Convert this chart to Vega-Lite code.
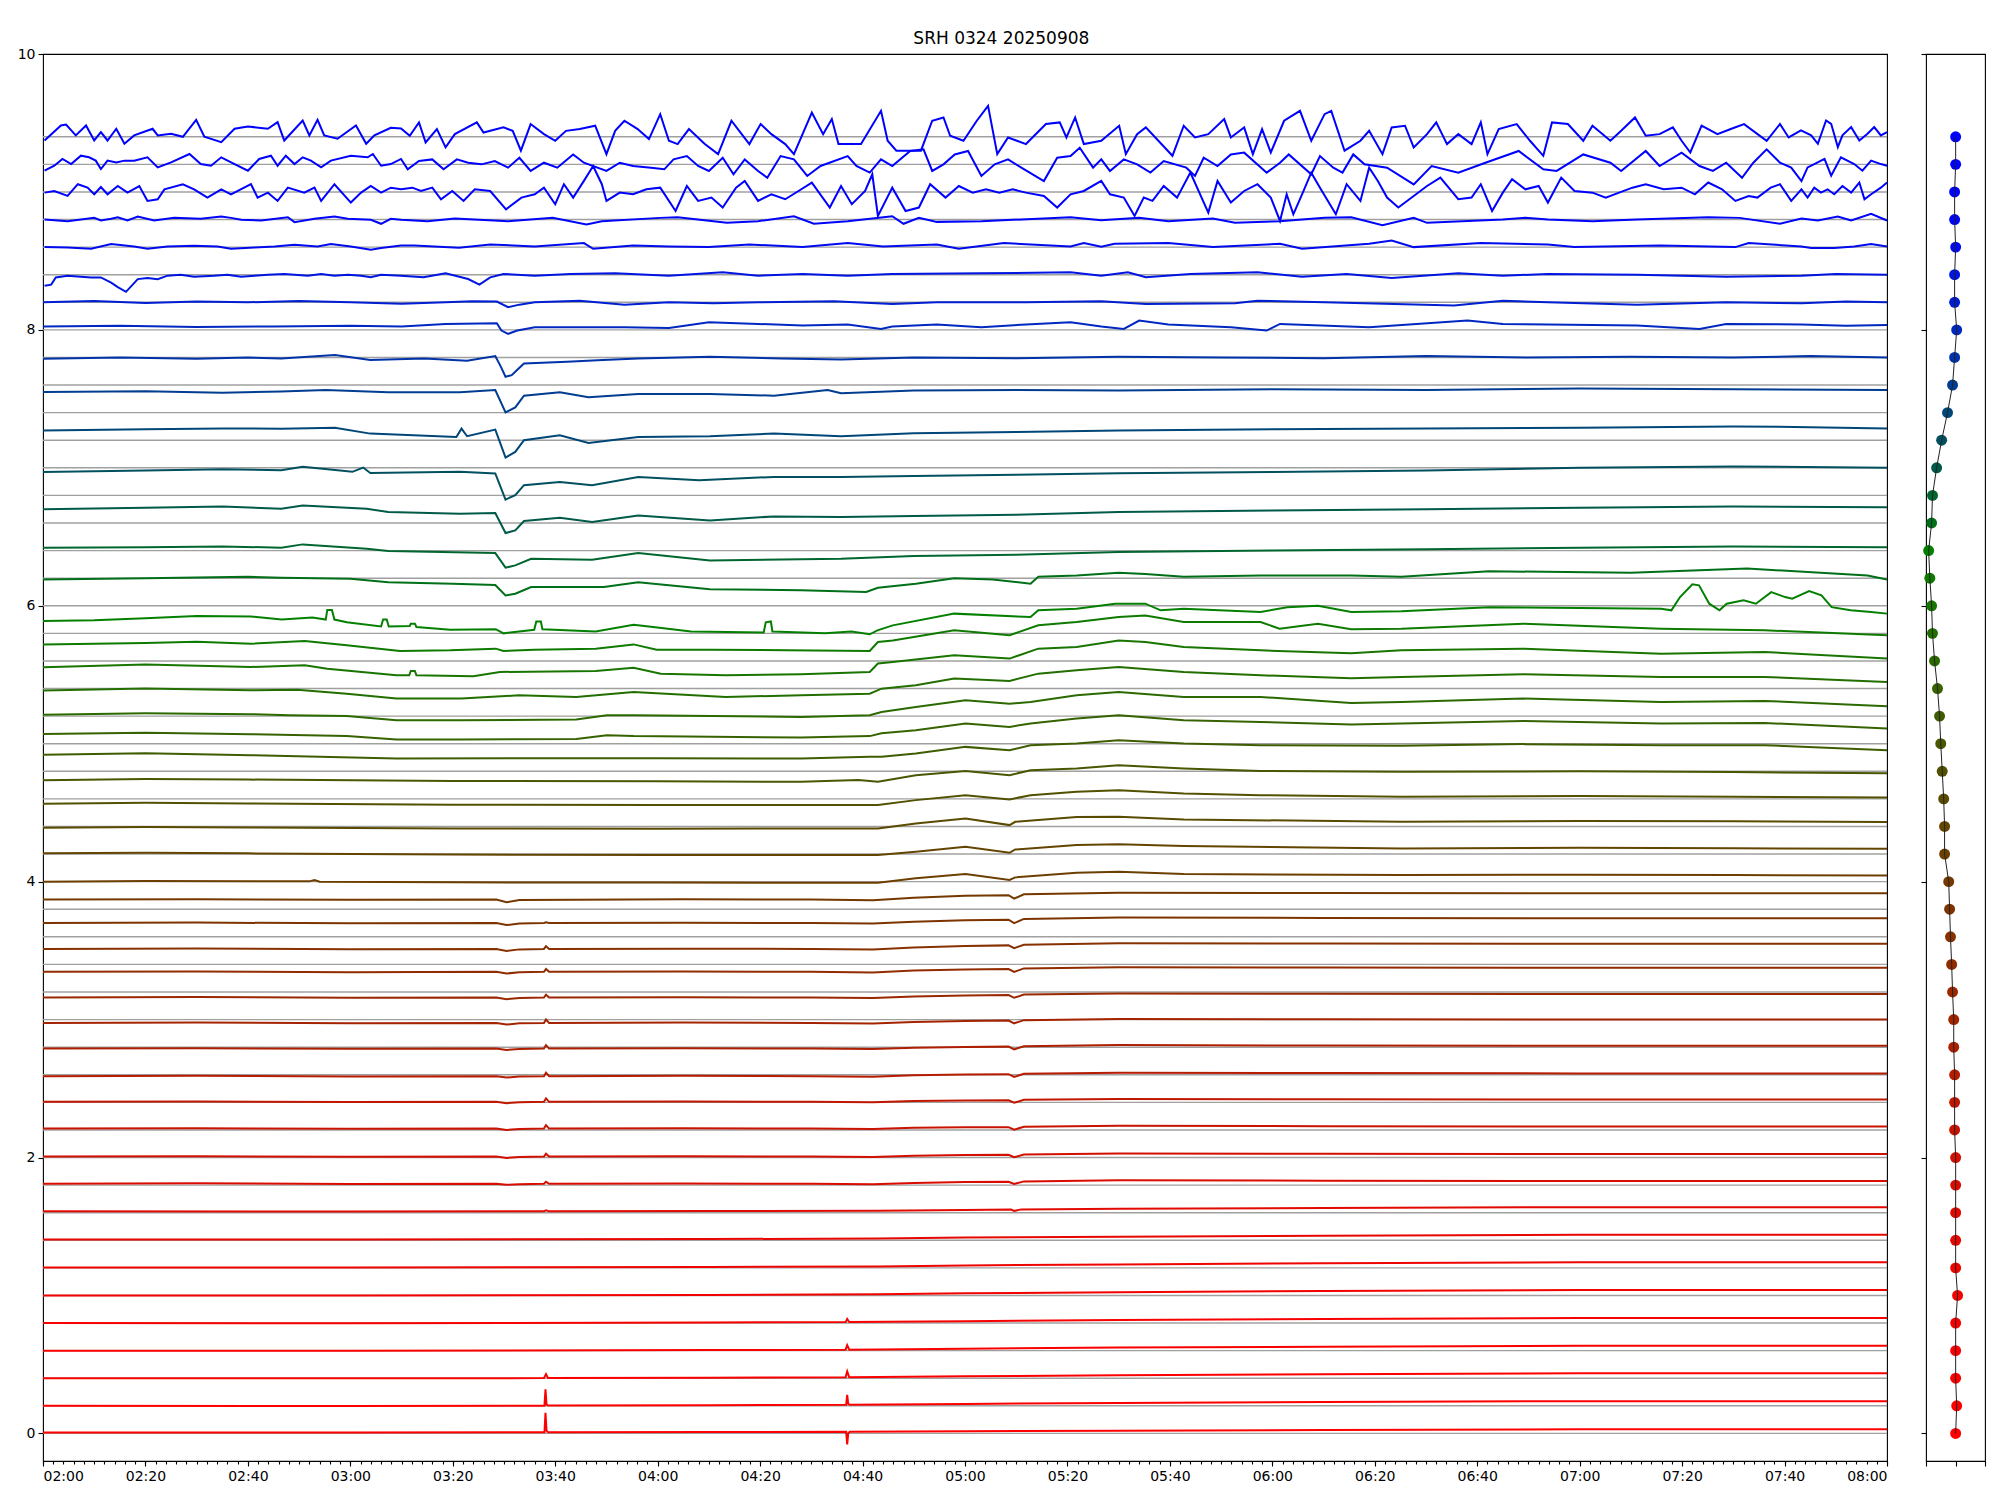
{
"$schema":"https://vega.github.io/schema/vega-lite/v6.json",
"padding":{"left":16,"top":30,"right":5,"bottom":5},
"title":{"text":"SRH 0324 20250908","fontSize":17,"fontWeight":"normal","font":"DejaVu Sans","color":"black","anchor":"middle","offset":-2},
"config":{"font":"DejaVu Sans","view":{"stroke":"black","strokeWidth":1.1},"axis":{"labelFont":"DejaVu Sans","labelFontSize":14,"labelColor":"black","tickColor":"black","tickWidth":1.1,"domain":false,"grid":false}},
"spacing":27,
"datasets":{
"dt":[{"s":9.4,"x":0.005},{"s":9.2,"x":0.005},{"s":9.0,"x":-0.03},{"s":8.8,"x":-0.03},{"s":8.6,"x":0.005},{"s":8.4,"x":-0.03},{"s":8.2,"x":-0.03},{"s":8.0,"x":0.04},{"s":7.8,"x":-0.03},{"s":7.6,"x":-0.1},{"s":7.4,"x":-0.27},{"s":7.2,"x":-0.47},{"s":7.0,"x":-0.64},{"s":6.8,"x":-0.78},{"s":6.6,"x":-0.81},{"s":6.4,"x":-0.91},{"s":6.2,"x":-0.87},{"s":6.0,"x":-0.81},{"s":5.8,"x":-0.78},{"s":5.6,"x":-0.71},{"s":5.4,"x":-0.61},{"s":5.2,"x":-0.54},{"s":5.0,"x":-0.5},{"s":4.8,"x":-0.45},{"s":4.6,"x":-0.4},{"s":4.4,"x":-0.37},{"s":4.2,"x":-0.37},{"s":4.0,"x":-0.23},{"s":3.8,"x":-0.2},{"s":3.6,"x":-0.17},{"s":3.4,"x":-0.13},{"s":3.2,"x":-0.1},{"s":3.0,"x":-0.06},{"s":2.8,"x":-0.06},{"s":2.6,"x":-0.03},{"s":2.4,"x":-0.03},{"s":2.2,"x":-0.03},{"s":2.0,"x":0.005},{"s":1.8,"x":0.005},{"s":1.6,"x":0.005},{"s":1.4,"x":0.005},{"s":1.2,"x":0.005},{"s":1.0,"x":0.07},{"s":0.8,"x":0.005},{"s":0.6,"x":0.005},{"s":0.4,"x":0.005},{"s":0.2,"x":0.04},{"s":0.0,"x":0.005}],
"tr":[
{"s":9.4,"t":120.3,"v":9.373},{"s":9.4,"t":123.5,"v":9.482},{"s":9.4,"t":124.5,"v":9.489},{"s":9.4,"t":126.4,"v":9.41},{"s":9.4,"t":128.4,"v":9.482},{"s":9.4,"t":130,"v":9.373},{"s":9.4,"t":131.3,"v":9.434},{"s":9.4,"t":132.6,"v":9.373},{"s":9.4,"t":134.3,"v":9.458},{"s":9.4,"t":135.9,"v":9.349},{"s":9.4,"t":137.8,"v":9.41},{"s":9.4,"t":141.4,"v":9.458},{"s":9.4,"t":142.4,"v":9.41},{"s":9.4,"t":145,"v":9.422},{"s":9.4,"t":147.3,"v":9.4},{"s":9.4,"t":149.9,"v":9.523},{"s":9.4,"t":151.5,"v":9.4},{"s":9.4,"t":154.8,"v":9.361},{"s":9.4,"t":157.4,"v":9.458},{"s":9.4,"t":160,"v":9.475},{"s":9.4,"t":163.9,"v":9.458},{"s":9.4,"t":165.8,"v":9.506},{"s":9.4,"t":167.1,"v":9.373},{"s":9.4,"t":170.7,"v":9.518},{"s":9.4,"t":172,"v":9.41},{"s":9.4,"t":173.6,"v":9.523},{"s":9.4,"t":174.9,"v":9.41},{"s":9.4,"t":177.5,"v":9.386},{"s":9.4,"t":181.1,"v":9.482},{"s":9.4,"t":183.1,"v":9.349},{"s":9.4,"t":184.7,"v":9.41},{"s":9.4,"t":187.9,"v":9.465},{"s":9.4,"t":189.9,"v":9.46},{"s":9.4,"t":191.6,"v":9.407},{"s":9.4,"t":193.4,"v":9.504},{"s":9.4,"t":194.7,"v":9.359},{"s":9.4,"t":196.9,"v":9.456},{"s":9.4,"t":198.6,"v":9.323},{"s":9.4,"t":200.4,"v":9.419},{"s":9.4,"t":204.7,"v":9.504},{"s":9.4,"t":206,"v":9.431},{"s":9.4,"t":209.9,"v":9.468},{"s":9.4,"t":211.7,"v":9.443},{"s":9.4,"t":213.3,"v":9.299},{"s":9.4,"t":215.2,"v":9.492},{"s":9.4,"t":217.8,"v":9.419},{"s":9.4,"t":220,"v":9.371},{"s":9.4,"t":222.1,"v":9.443},{"s":9.4,"t":224.8,"v":9.456},{"s":9.4,"t":227.8,"v":9.48},{"s":9.4,"t":230,"v":9.274},{"s":9.4,"t":231.7,"v":9.443},{"s":9.4,"t":233.5,"v":9.516},{"s":9.4,"t":236.1,"v":9.456},{"s":9.4,"t":238.3,"v":9.383},{"s":9.4,"t":240.5,"v":9.564},{"s":9.4,"t":242.2,"v":9.371},{"s":9.4,"t":243.9,"v":9.347},{"s":9.4,"t":246.1,"v":9.456},{"s":9.4,"t":249.2,"v":9.347},{"s":9.4,"t":251.8,"v":9.274},{"s":9.4,"t":254.4,"v":9.516},{"s":9.4,"t":257.9,"v":9.347},{"s":9.4,"t":260.1,"v":9.492},{"s":9.4,"t":262.2,"v":9.419},{"s":9.4,"t":264.9,"v":9.347},{"s":9.4,"t":266.6,"v":9.274},{"s":9.4,"t":270.1,"v":9.576},{"s":9.4,"t":272.3,"v":9.419},{"s":9.4,"t":274,"v":9.528},{"s":9.4,"t":275.3,"v":9.347},{"s":9.4,"t":279.7,"v":9.347},{"s":9.4,"t":283.6,"v":9.588},{"s":9.4,"t":284.9,"v":9.371},{"s":9.4,"t":286.6,"v":9.299},{"s":9.4,"t":291.4,"v":9.299},{"s":9.4,"t":293.6,"v":9.516},{"s":9.4,"t":295.8,"v":9.54},{"s":9.4,"t":297.1,"v":9.407},{"s":9.4,"t":299.7,"v":9.371},{"s":9.4,"t":302.3,"v":9.516},{"s":9.4,"t":304.5,"v":9.624},{"s":9.4,"t":306.3,"v":9.274},{"s":9.4,"t":308.4,"v":9.395},{"s":9.4,"t":311.9,"v":9.347},{"s":9.4,"t":315.8,"v":9.492},{"s":9.4,"t":318.5,"v":9.504},{"s":9.4,"t":319.8,"v":9.395},{"s":9.4,"t":321.5,"v":9.54},{"s":9.4,"t":323.2,"v":9.347},{"s":9.4,"t":326.6,"v":9.371},{"s":9.4,"t":330.1,"v":9.48},{"s":9.4,"t":331.4,"v":9.274},{"s":9.4,"t":333.6,"v":9.419},{"s":9.4,"t":335.3,"v":9.468},{"s":9.4,"t":340.5,"v":9.262},{"s":9.4,"t":342.7,"v":9.48},{"s":9.4,"t":344.9,"v":9.395},{"s":9.4,"t":347.5,"v":9.419},{"s":9.4,"t":350.6,"v":9.528},{"s":9.4,"t":351.9,"v":9.395},{"s":9.4,"t":354.5,"v":9.468},{"s":9.4,"t":356.2,"v":9.274},{"s":9.4,"t":358,"v":9.456},{"s":9.4,"t":359.7,"v":9.286},{"s":9.4,"t":362.3,"v":9.516},{"s":9.4,"t":365.4,"v":9.588},{"s":9.4,"t":367.6,"v":9.371},{"s":9.4,"t":370.2,"v":9.564},{"s":9.4,"t":371.5,"v":9.588},{"s":9.4,"t":374.1,"v":9.299},{"s":9.4,"t":377.2,"v":9.371},{"s":9.4,"t":378.9,"v":9.443},{"s":9.4,"t":381.5,"v":9.274},{"s":9.4,"t":383.3,"v":9.468},{"s":9.4,"t":385.9,"v":9.48},{"s":9.4,"t":387.6,"v":9.323},{"s":9.4,"t":390.2,"v":9.419},{"s":9.4,"t":392,"v":9.504},{"s":9.4,"t":394.1,"v":9.347},{"s":9.4,"t":396.3,"v":9.419},{"s":9.4,"t":398.9,"v":9.347},{"s":9.4,"t":400.7,"v":9.504},{"s":9.4,"t":402,"v":9.274},{"s":9.4,"t":404.2,"v":9.456},{"s":9.4,"t":407.7,"v":9.492},{"s":9.4,"t":410.3,"v":9.371},{"s":9.4,"t":412.9,"v":9.262},{"s":9.4,"t":414.6,"v":9.504},{"s":9.4,"t":417.7,"v":9.492},{"s":9.4,"t":420.7,"v":9.371},{"s":9.4,"t":422.5,"v":9.48},{"s":9.4,"t":426,"v":9.371},{"s":9.4,"t":428.1,"v":9.443},{"s":9.4,"t":430.8,"v":9.54},{"s":9.4,"t":432.9,"v":9.407},{"s":9.4,"t":435.6,"v":9.419},{"s":9.4,"t":438.2,"v":9.468},{"s":9.4,"t":439.9,"v":9.371},{"s":9.4,"t":441.6,"v":9.286},{"s":9.4,"t":443.8,"v":9.48},{"s":9.4,"t":446.9,"v":9.419},{"s":9.4,"t":449.5,"v":9.456},{"s":9.4,"t":452.1,"v":9.492},{"s":9.4,"t":456.5,"v":9.371},{"s":9.4,"t":459.1,"v":9.492},{"s":9.4,"t":460.8,"v":9.395},{"s":9.4,"t":463.2,"v":9.446},{"s":9.4,"t":465.2,"v":9.41},{"s":9.4,"t":466.5,"v":9.349},{"s":9.4,"t":468.1,"v":9.518},{"s":9.4,"t":469.1,"v":9.494},{"s":9.4,"t":470.4,"v":9.325},{"s":9.4,"t":471.3,"v":9.41},{"s":9.4,"t":473,"v":9.47},{"s":9.4,"t":474.6,"v":9.373},{"s":9.4,"t":476.2,"v":9.422},{"s":9.4,"t":477.5,"v":9.47},{"s":9.4,"t":478.8,"v":9.41},{"s":9.4,"t":480,"v":9.434},
{"s":9.2,"t":120.3,"v":9.154},{"s":9.2,"t":122.2,"v":9.19},{"s":9.2,"t":123.8,"v":9.239},{"s":9.2,"t":125.5,"v":9.202},{"s":9.2,"t":127.4,"v":9.263},{"s":9.2,"t":129,"v":9.251},{"s":9.2,"t":130.3,"v":9.227},{"s":9.2,"t":131.3,"v":9.166},{"s":9.2,"t":132.6,"v":9.227},{"s":9.2,"t":134.3,"v":9.214},{"s":9.2,"t":135.9,"v":9.227},{"s":9.2,"t":137.8,"v":9.227},{"s":9.2,"t":140.4,"v":9.251},{"s":9.2,"t":142.4,"v":9.178},{"s":9.2,"t":145,"v":9.214},{"s":9.2,"t":148.6,"v":9.275},{"s":9.2,"t":150.8,"v":9.202},{"s":9.2,"t":152.8,"v":9.19},{"s":9.2,"t":154.8,"v":9.251},{"s":9.2,"t":157.4,"v":9.202},{"s":9.2,"t":160,"v":9.154},{"s":9.2,"t":162.2,"v":9.239},{"s":9.2,"t":164.5,"v":9.263},{"s":9.2,"t":165.8,"v":9.19},{"s":9.2,"t":167.4,"v":9.263},{"s":9.2,"t":169.1,"v":9.202},{"s":9.2,"t":170.7,"v":9.251},{"s":9.2,"t":172.3,"v":9.227},{"s":9.2,"t":174.3,"v":9.178},{"s":9.2,"t":176.2,"v":9.227},{"s":9.2,"t":180.1,"v":9.263},{"s":9.2,"t":183.4,"v":9.251},{"s":9.2,"t":184.4,"v":9.275},{"s":9.2,"t":186,"v":9.19},{"s":9.2,"t":187.9,"v":9.202},{"s":9.2,"t":189.9,"v":9.239},{"s":9.2,"t":191.2,"v":9.164},{"s":9.2,"t":193.4,"v":9.224},{"s":9.2,"t":196,"v":9.236},{"s":9.2,"t":198.2,"v":9.164},{"s":9.2,"t":200.8,"v":9.236},{"s":9.2,"t":203,"v":9.212},{"s":9.2,"t":205.6,"v":9.2},{"s":9.2,"t":208.2,"v":9.224},{"s":9.2,"t":210.8,"v":9.176},{"s":9.2,"t":213,"v":9.248},{"s":9.2,"t":215.2,"v":9.152},{"s":9.2,"t":217.8,"v":9.212},{"s":9.2,"t":220.4,"v":9.176},{"s":9.2,"t":223.5,"v":9.272},{"s":9.2,"t":225.6,"v":9.212},{"s":9.2,"t":230,"v":9.152},{"s":9.2,"t":232.6,"v":9.212},{"s":9.2,"t":235.2,"v":9.188},{"s":9.2,"t":238.7,"v":9.176},{"s":9.2,"t":241.3,"v":9.164},{"s":9.2,"t":243.1,"v":9.236},{"s":9.2,"t":245.7,"v":9.26},{"s":9.2,"t":247.9,"v":9.188},{"s":9.2,"t":250,"v":9.152},{"s":9.2,"t":252.7,"v":9.248},{"s":9.2,"t":254.8,"v":9.128},{"s":9.2,"t":257,"v":9.236},{"s":9.2,"t":259.6,"v":9.152},{"s":9.2,"t":261.4,"v":9.103},{"s":9.2,"t":264,"v":9.26},{"s":9.2,"t":266.6,"v":9.236},{"s":9.2,"t":269.2,"v":9.116},{"s":9.2,"t":271.8,"v":9.188},{"s":9.2,"t":277.1,"v":9.26},{"s":9.2,"t":278.8,"v":9.188},{"s":9.2,"t":281.4,"v":9.14},{"s":9.2,"t":283.6,"v":9.236},{"s":9.2,"t":285.8,"v":9.188},{"s":9.2,"t":289.3,"v":9.297},{"s":9.2,"t":291.9,"v":9.309},{"s":9.2,"t":293.6,"v":9.152},{"s":9.2,"t":295.8,"v":9.2},{"s":9.2,"t":298,"v":9.272},{"s":9.2,"t":300.6,"v":9.297},{"s":9.2,"t":303.2,"v":9.116},{"s":9.2,"t":305.8,"v":9.2},{"s":9.2,"t":308.4,"v":9.236},{"s":9.2,"t":311,"v":9.176},{"s":9.2,"t":315.4,"v":9.079},{"s":9.2,"t":318,"v":9.248},{"s":9.2,"t":320.6,"v":9.26},{"s":9.2,"t":322.4,"v":9.321},{"s":9.2,"t":325,"v":9.176},{"s":9.2,"t":326.6,"v":9.236},{"s":9.2,"t":328.3,"v":9.152},{"s":9.2,"t":331,"v":9.236},{"s":9.2,"t":333.6,"v":9.2},{"s":9.2,"t":336.2,"v":9.14},{"s":9.2,"t":338.8,"v":9.224},{"s":9.2,"t":343.2,"v":9.176},{"s":9.2,"t":344.9,"v":9.116},{"s":9.2,"t":346.6,"v":9.248},{"s":9.2,"t":349.3,"v":9.188},{"s":9.2,"t":351.9,"v":9.272},{"s":9.2,"t":354.5,"v":9.285},{"s":9.2,"t":358.9,"v":9.14},{"s":9.2,"t":361.5,"v":9.212},{"s":9.2,"t":363.2,"v":9.272},{"s":9.2,"t":367.6,"v":9.128},{"s":9.2,"t":369.3,"v":9.26},{"s":9.2,"t":371.9,"v":9.176},{"s":9.2,"t":373.7,"v":9.14},{"s":9.2,"t":375.8,"v":9.272},{"s":9.2,"t":378,"v":9.2},{"s":9.2,"t":382.4,"v":9.176},{"s":9.2,"t":387.6,"v":9.055},{"s":9.2,"t":391.1,"v":9.188},{"s":9.2,"t":396.3,"v":9.14},{"s":9.2,"t":401.6,"v":9.212},{"s":9.2,"t":408.1,"v":9.297},{"s":9.2,"t":412.9,"v":9.164},{"s":9.2,"t":415.5,"v":9.152},{"s":9.2,"t":420.7,"v":9.272},{"s":9.2,"t":426,"v":9.212},{"s":9.2,"t":428.1,"v":9.152},{"s":9.2,"t":432.9,"v":9.297},{"s":9.2,"t":435.6,"v":9.188},{"s":9.2,"t":439.9,"v":9.285},{"s":9.2,"t":443.4,"v":9.188},{"s":9.2,"t":446,"v":9.152},{"s":9.2,"t":448.6,"v":9.212},{"s":9.2,"t":451.7,"v":9.103},{"s":9.2,"t":453.9,"v":9.212},{"s":9.2,"t":456.5,"v":9.309},{"s":9.2,"t":459.1,"v":9.212},{"s":9.2,"t":461.3,"v":9.176},{"s":9.2,"t":463.3,"v":9.079},{"s":9.2,"t":464.5,"v":9.178},{"s":9.2,"t":465.8,"v":9.202},{"s":9.2,"t":467.8,"v":9.239},{"s":9.2,"t":469.1,"v":9.118},{"s":9.2,"t":471,"v":9.251},{"s":9.2,"t":473.6,"v":9.202},{"s":9.2,"t":475.2,"v":9.154},{"s":9.2,"t":476.9,"v":9.227},{"s":9.2,"t":478.8,"v":9.202},{"s":9.2,"t":480,"v":9.19},
{"s":9.0,"t":120.3,"v":8.995},{"s":9.0,"t":122.2,"v":9.007},{"s":9.0,"t":124.8,"v":8.971},{"s":9.0,"t":126.8,"v":9.056},{"s":9.0,"t":128.7,"v":9.031},{"s":9.0,"t":130,"v":8.983},{"s":9.0,"t":131.3,"v":9.036},{"s":9.0,"t":132.6,"v":8.983},{"s":9.0,"t":134.6,"v":9.043},{"s":9.0,"t":136.5,"v":8.995},{"s":9.0,"t":138.8,"v":9.043},{"s":9.0,"t":140.4,"v":8.935},{"s":9.0,"t":142.4,"v":8.947},{"s":9.0,"t":143.7,"v":9.019},{"s":9.0,"t":147.3,"v":9.056},{"s":9.0,"t":149.5,"v":9.019},{"s":9.0,"t":152.1,"v":8.959},{"s":9.0,"t":154.8,"v":9.019},{"s":9.0,"t":156.7,"v":8.983},{"s":9.0,"t":160.6,"v":9.056},{"s":9.0,"t":161.9,"v":8.959},{"s":9.0,"t":163.9,"v":8.995},{"s":9.0,"t":165.8,"v":8.935},{"s":9.0,"t":167.8,"v":9.031},{"s":9.0,"t":171,"v":8.995},{"s":9.0,"t":173,"v":9.031},{"s":9.0,"t":174.3,"v":8.935},{"s":9.0,"t":176.9,"v":9.056},{"s":9.0,"t":180.1,"v":8.923},{"s":9.0,"t":182.1,"v":8.995},{"s":9.0,"t":184,"v":9.043},{"s":9.0,"t":186,"v":8.995},{"s":9.0,"t":187.9,"v":9.031},{"s":9.0,"t":189.9,"v":9.019},{"s":9.0,"t":192.1,"v":9.031},{"s":9.0,"t":193.8,"v":9.007},{"s":9.0,"t":196,"v":9.031},{"s":9.0,"t":197.7,"v":8.947},{"s":9.0,"t":199.9,"v":9.007},{"s":9.0,"t":202.1,"v":8.935},{"s":9.0,"t":204.3,"v":9.019},{"s":9.0,"t":207.3,"v":9.007},{"s":9.0,"t":210.4,"v":8.874},{"s":9.0,"t":213.4,"v":8.959},{"s":9.0,"t":216,"v":8.983},{"s":9.0,"t":217.8,"v":9.031},{"s":9.0,"t":220,"v":8.911},{"s":9.0,"t":221.7,"v":9.056},{"s":9.0,"t":223.5,"v":8.959},{"s":9.0,"t":225.6,"v":9.08},{"s":9.0,"t":227.4,"v":9.188},{"s":9.0,"t":229.1,"v":9.056},{"s":9.0,"t":230,"v":8.935},{"s":9.0,"t":232.6,"v":8.995},{"s":9.0,"t":235.2,"v":8.983},{"s":9.0,"t":237.8,"v":9.019},{"s":9.0,"t":240.5,"v":9.031},{"s":9.0,"t":243.5,"v":8.862},{"s":9.0,"t":245.7,"v":9.043},{"s":9.0,"t":247.9,"v":8.935},{"s":9.0,"t":250.5,"v":8.959},{"s":9.0,"t":252.7,"v":8.887},{"s":9.0,"t":255.3,"v":9.031},{"s":9.0,"t":257,"v":9.08},{"s":9.0,"t":259.6,"v":8.935},{"s":9.0,"t":262.2,"v":8.983},{"s":9.0,"t":264.9,"v":8.947},{"s":9.0,"t":267.5,"v":9.007},{"s":9.0,"t":270.1,"v":9.068},{"s":9.0,"t":273.6,"v":8.887},{"s":9.0,"t":275.8,"v":9.043},{"s":9.0,"t":277.9,"v":8.911},{"s":9.0,"t":280.5,"v":9.007},{"s":9.0,"t":281.9,"v":9.128},{"s":9.0,"t":283,"v":8.826},{"s":9.0,"t":285.8,"v":9.031},{"s":9.0,"t":288.4,"v":8.862},{"s":9.0,"t":291,"v":8.887},{"s":9.0,"t":293.2,"v":9.056},{"s":9.0,"t":296.2,"v":8.959},{"s":9.0,"t":298.8,"v":9.043},{"s":9.0,"t":301.5,"v":8.995},{"s":9.0,"t":304.1,"v":9.019},{"s":9.0,"t":306.7,"v":8.995},{"s":9.0,"t":309.3,"v":9.019},{"s":9.0,"t":311.9,"v":8.995},{"s":9.0,"t":315.4,"v":8.971},{"s":9.0,"t":318,"v":8.887},{"s":9.0,"t":320.6,"v":8.983},{"s":9.0,"t":323.2,"v":9.007},{"s":9.0,"t":326.6,"v":9.08},{"s":9.0,"t":328.3,"v":8.983},{"s":9.0,"t":331,"v":8.959},{"s":9.0,"t":333.1,"v":8.826},{"s":9.0,"t":334.9,"v":8.959},{"s":9.0,"t":336.6,"v":8.935},{"s":9.0,"t":338.8,"v":9.043},{"s":9.0,"t":341.4,"v":8.959},{"s":9.0,"t":344,"v":9.14},{"s":9.0,"t":347.5,"v":8.85},{"s":9.0,"t":349.3,"v":9.08},{"s":9.0,"t":351.9,"v":8.923},{"s":9.0,"t":354.5,"v":9.007},{"s":9.0,"t":357.1,"v":9.056},{"s":9.0,"t":359.7,"v":8.959},{"s":9.0,"t":361.5,"v":8.79},{"s":9.0,"t":362.8,"v":8.983},{"s":9.0,"t":364.1,"v":8.838},{"s":9.0,"t":365.8,"v":8.983},{"s":9.0,"t":367.6,"v":9.14},{"s":9.0,"t":369.3,"v":9.031},{"s":9.0,"t":372.4,"v":8.838},{"s":9.0,"t":374.5,"v":9.056},{"s":9.0,"t":377.2,"v":8.935},{"s":9.0,"t":378.9,"v":9.176},{"s":9.0,"t":380.6,"v":9.08},{"s":9.0,"t":382.4,"v":8.959},{"s":9.0,"t":384.6,"v":8.887},{"s":9.0,"t":387.6,"v":8.971},{"s":9.0,"t":390.2,"v":9.043},{"s":9.0,"t":392.8,"v":9.104},{"s":9.0,"t":396.3,"v":8.947},{"s":9.0,"t":398.9,"v":8.959},{"s":9.0,"t":400.7,"v":9.056},{"s":9.0,"t":402.9,"v":8.862},{"s":9.0,"t":405,"v":8.995},{"s":9.0,"t":406.8,"v":9.092},{"s":9.0,"t":409.4,"v":9.019},{"s":9.0,"t":412,"v":9.043},{"s":9.0,"t":413.8,"v":8.923},{"s":9.0,"t":416.4,"v":9.104},{"s":9.0,"t":419,"v":9.007},{"s":9.0,"t":422.5,"v":8.995},{"s":9.0,"t":425.1,"v":8.959},{"s":9.0,"t":427.7,"v":8.995},{"s":9.0,"t":430.3,"v":9.031},{"s":9.0,"t":432.9,"v":9.056},{"s":9.0,"t":436.4,"v":9.019},{"s":9.0,"t":439.9,"v":9.031},{"s":9.0,"t":442.5,"v":8.983},{"s":9.0,"t":445.1,"v":9.068},{"s":9.0,"t":447.8,"v":9.019},{"s":9.0,"t":450.4,"v":8.935},{"s":9.0,"t":453,"v":8.971},{"s":9.0,"t":454.7,"v":8.959},{"s":9.0,"t":457.3,"v":9.031},{"s":9.0,"t":459.1,"v":9.056},{"s":9.0,"t":461.3,"v":8.935},{"s":9.0,"t":463.3,"v":9.019},{"s":9.0,"t":464.5,"v":8.959},{"s":9.0,"t":465.8,"v":9.031},{"s":9.0,"t":467.1,"v":8.995},{"s":9.0,"t":468.4,"v":9.019},{"s":9.0,"t":469.7,"v":8.983},{"s":9.0,"t":471.3,"v":9.043},{"s":9.0,"t":473,"v":8.995},{"s":9.0,"t":474.6,"v":9.068},{"s":9.0,"t":475.6,"v":8.947},{"s":9.0,"t":476.9,"v":8.983},{"s":9.0,"t":478.8,"v":9.031},{"s":9.0,"t":480,"v":9.068},
{"s":8.8,"t":120.3,"v":8.8},{"s":8.8,"t":124.8,"v":8.788},{"s":8.8,"t":130,"v":8.812},{"s":8.8,"t":131.3,"v":8.793},{"s":8.8,"t":133.3,"v":8.805},{"s":8.8,"t":134.6,"v":8.817},{"s":8.8,"t":136.5,"v":8.793},{"s":8.8,"t":138.5,"v":8.822},{"s":8.8,"t":141.7,"v":8.793},{"s":8.8,"t":145.6,"v":8.812},{"s":8.8,"t":150.8,"v":8.805},{"s":8.8,"t":154.8,"v":8.822},{"s":8.8,"t":156.7,"v":8.812},{"s":8.8,"t":158.7,"v":8.798},{"s":8.8,"t":162.6,"v":8.793},{"s":8.8,"t":167.8,"v":8.817},{"s":8.8,"t":169.1,"v":8.781},{"s":8.8,"t":173,"v":8.805},{"s":8.8,"t":176.9,"v":8.822},{"s":8.8,"t":179.5,"v":8.805},{"s":8.8,"t":184,"v":8.798},{"s":8.8,"t":186,"v":8.769},{"s":8.8,"t":187.9,"v":8.805},{"s":8.8,"t":189.9,"v":8.798},{"s":8.8,"t":195.1,"v":8.788},{"s":8.8,"t":200.4,"v":8.807},{"s":8.8,"t":210.8,"v":8.788},{"s":8.8,"t":219.5,"v":8.812},{"s":8.8,"t":226.1,"v":8.764},{"s":8.8,"t":229.1,"v":8.788},{"s":8.8,"t":240.5,"v":8.812},{"s":8.8,"t":243.9,"v":8.817},{"s":8.8,"t":253.5,"v":8.776},{"s":8.8,"t":259.6,"v":8.788},{"s":8.8,"t":266.6,"v":8.824},{"s":8.8,"t":270.5,"v":8.769},{"s":8.8,"t":277.1,"v":8.788},{"s":8.8,"t":285.8,"v":8.824},{"s":8.8,"t":288,"v":8.769},{"s":8.8,"t":291,"v":8.812},{"s":8.8,"t":294.5,"v":8.783},{"s":8.8,"t":303.2,"v":8.788},{"s":8.8,"t":320.6,"v":8.817},{"s":8.8,"t":326.6,"v":8.795},{"s":8.8,"t":334,"v":8.812},{"s":8.8,"t":339.7,"v":8.788},{"s":8.8,"t":348.4,"v":8.807},{"s":8.8,"t":352.7,"v":8.776},{"s":8.8,"t":361.5,"v":8.788},{"s":8.8,"t":365.8,"v":8.8},{"s":8.8,"t":370.2,"v":8.812},{"s":8.8,"t":375.4,"v":8.817},{"s":8.8,"t":381.5,"v":8.759},{"s":8.8,"t":387.6,"v":8.812},{"s":8.8,"t":390.2,"v":8.776},{"s":8.8,"t":405,"v":8.8},{"s":8.8,"t":409.4,"v":8.812},{"s":8.8,"t":413.8,"v":8.8},{"s":8.8,"t":422.5,"v":8.788},{"s":8.8,"t":431.2,"v":8.8},{"s":8.8,"t":445.1,"v":8.817},{"s":8.8,"t":451.2,"v":8.812},{"s":8.8,"t":459.1,"v":8.769},{"s":8.8,"t":463.3,"v":8.807},{"s":8.8,"t":466.5,"v":8.793},{"s":8.8,"t":470.4,"v":8.822},{"s":8.8,"t":473,"v":8.793},{"s":8.8,"t":476.9,"v":8.841},{"s":8.8,"t":480,"v":8.793},
{"s":8.6,"t":120.3,"v":8.6},{"s":8.6,"t":124.8,"v":8.598},{"s":8.6,"t":129.4,"v":8.588},{"s":8.6,"t":133.3,"v":8.622},{"s":8.6,"t":137.8,"v":8.605},{"s":8.6,"t":140.4,"v":8.588},{"s":8.6,"t":144.3,"v":8.605},{"s":8.6,"t":149.5,"v":8.61},{"s":8.6,"t":154.1,"v":8.605},{"s":8.6,"t":156.7,"v":8.588},{"s":8.6,"t":161.3,"v":8.598},{"s":8.6,"t":165.2,"v":8.605},{"s":8.6,"t":169.1,"v":8.617},{"s":8.6,"t":173.6,"v":8.605},{"s":8.6,"t":176.2,"v":8.622},{"s":8.6,"t":180.1,"v":8.605},{"s":8.6,"t":184,"v":8.581},{"s":8.6,"t":186,"v":8.593},{"s":8.6,"t":189.9,"v":8.612},{"s":8.6,"t":192.5,"v":8.612},{"s":8.6,"t":201.2,"v":8.595},{"s":8.6,"t":207.3,"v":8.619},{"s":8.6,"t":216,"v":8.605},{"s":8.6,"t":225.6,"v":8.629},{"s":8.6,"t":227.4,"v":8.588},{"s":8.6,"t":235.2,"v":8.612},{"s":8.6,"t":242.2,"v":8.605},{"s":8.6,"t":250,"v":8.6},{"s":8.6,"t":257.9,"v":8.619},{"s":8.6,"t":268.3,"v":8.6},{"s":8.6,"t":277.1,"v":8.629},{"s":8.6,"t":284,"v":8.605},{"s":8.6,"t":294.5,"v":8.619},{"s":8.6,"t":298.8,"v":8.588},{"s":8.6,"t":307.6,"v":8.629},{"s":8.6,"t":320.6,"v":8.605},{"s":8.6,"t":323.2,"v":8.629},{"s":8.6,"t":326.6,"v":8.602},{"s":8.6,"t":329.2,"v":8.624},{"s":8.6,"t":339.7,"v":8.629},{"s":8.6,"t":348.4,"v":8.6},{"s":8.6,"t":361.5,"v":8.624},{"s":8.6,"t":365.8,"v":8.588},{"s":8.6,"t":378.9,"v":8.624},{"s":8.6,"t":383.3,"v":8.648},{"s":8.6,"t":387.6,"v":8.6},{"s":8.6,"t":400.7,"v":8.629},{"s":8.6,"t":413.8,"v":8.619},{"s":8.6,"t":419,"v":8.6},{"s":8.6,"t":435.6,"v":8.612},{"s":8.6,"t":450.4,"v":8.6},{"s":8.6,"t":453,"v":8.629},{"s":8.6,"t":463.3,"v":8.605},{"s":8.6,"t":465.2,"v":8.593},{"s":8.6,"t":469.7,"v":8.593},{"s":8.6,"t":473.6,"v":8.605},{"s":8.6,"t":476.9,"v":8.622},{"s":8.6,"t":480,"v":8.605},
{"s":8.4,"t":120.3,"v":8.32},{"s":8.4,"t":121.6,"v":8.328},{"s":8.4,"t":122.5,"v":8.38},{"s":8.4,"t":124.8,"v":8.393},{"s":8.4,"t":127.4,"v":8.386},{"s":8.4,"t":129.4,"v":8.38},{"s":8.4,"t":131.3,"v":8.38},{"s":8.4,"t":133.3,"v":8.343},{"s":8.4,"t":134.6,"v":8.31},{"s":8.4,"t":136.2,"v":8.276},{"s":8.4,"t":137.6,"v":8.332},{"s":8.4,"t":138.5,"v":8.368},{"s":8.4,"t":140.4,"v":8.376},{"s":8.4,"t":142.4,"v":8.368},{"s":8.4,"t":144.3,"v":8.393},{"s":8.4,"t":146.9,"v":8.4},{"s":8.4,"t":149.5,"v":8.386},{"s":8.4,"t":153.4,"v":8.393},{"s":8.4,"t":156,"v":8.4},{"s":8.4,"t":158.7,"v":8.386},{"s":8.4,"t":161.3,"v":8.393},{"s":8.4,"t":163.9,"v":8.4},{"s":8.4,"t":167.1,"v":8.405},{"s":8.4,"t":169.1,"v":8.4},{"s":8.4,"t":171.7,"v":8.393},{"s":8.4,"t":174.3,"v":8.405},{"s":8.4,"t":176.9,"v":8.393},{"s":8.4,"t":179.5,"v":8.4},{"s":8.4,"t":182.1,"v":8.393},{"s":8.4,"t":184,"v":8.381},{"s":8.4,"t":186,"v":8.4},{"s":8.4,"t":189.9,"v":8.393},{"s":8.4,"t":194.3,"v":8.381},{"s":8.4,"t":198.6,"v":8.41},{"s":8.4,"t":203,"v":8.369},{"s":8.4,"t":205.2,"v":8.328},{"s":8.4,"t":207.3,"v":8.381},{"s":8.4,"t":209.9,"v":8.405},{"s":8.4,"t":216,"v":8.393},{"s":8.4,"t":223,"v":8.405},{"s":8.4,"t":231.7,"v":8.41},{"s":8.4,"t":242.2,"v":8.393},{"s":8.4,"t":252.7,"v":8.417},{"s":8.4,"t":259.6,"v":8.393},{"s":8.4,"t":268.3,"v":8.405},{"s":8.4,"t":277.1,"v":8.393},{"s":8.4,"t":285.8,"v":8.405},{"s":8.4,"t":303.2,"v":8.41},{"s":8.4,"t":320.6,"v":8.417},{"s":8.4,"t":326.6,"v":8.393},{"s":8.4,"t":331.8,"v":8.417},{"s":8.4,"t":335.3,"v":8.381},{"s":8.4,"t":344,"v":8.405},{"s":8.4,"t":357.1,"v":8.417},{"s":8.4,"t":365.8,"v":8.386},{"s":8.4,"t":374.5,"v":8.405},{"s":8.4,"t":383.3,"v":8.376},{"s":8.4,"t":396.3,"v":8.41},{"s":8.4,"t":405,"v":8.393},{"s":8.4,"t":413.8,"v":8.405},{"s":8.4,"t":431.2,"v":8.4},{"s":8.4,"t":448.6,"v":8.386},{"s":8.4,"t":463.3,"v":8.393},{"s":8.4,"t":470,"v":8.405},{"s":8.4,"t":480,"v":8.4},
{"s":8.2,"t":120,"v":8.2},{"s":8.2,"t":130,"v":8.21},{"s":8.2,"t":140,"v":8.195},{"s":8.2,"t":150,"v":8.205},{"s":8.2,"t":160,"v":8.2},{"s":8.2,"t":170,"v":8.21},{"s":8.2,"t":180,"v":8.2},{"s":8.2,"t":190,"v":8.19},{"s":8.2,"t":198.6,"v":8.2},{"s":8.2,"t":203.8,"v":8.207},{"s":8.2,"t":208.6,"v":8.205},{"s":8.2,"t":210.8,"v":8.164},{"s":8.2,"t":213,"v":8.183},{"s":8.2,"t":216,"v":8.2},{"s":8.2,"t":224.8,"v":8.212},{"s":8.2,"t":233.5,"v":8.183},{"s":8.2,"t":242.2,"v":8.2},{"s":8.2,"t":250.9,"v":8.193},{"s":8.2,"t":259.6,"v":8.2},{"s":8.2,"t":274.4,"v":8.207},{"s":8.2,"t":285.8,"v":8.188},{"s":8.2,"t":294.5,"v":8.2},{"s":8.2,"t":311.9,"v":8.2},{"s":8.2,"t":326.6,"v":8.207},{"s":8.2,"t":335.3,"v":8.188},{"s":8.2,"t":352.7,"v":8.193},{"s":8.2,"t":357.1,"v":8.212},{"s":8.2,"t":370.2,"v":8.2},{"s":8.2,"t":395.5,"v":8.176},{"s":8.2,"t":405,"v":8.212},{"s":8.2,"t":413.8,"v":8.2},{"s":8.2,"t":431.2,"v":8.183},{"s":8.2,"t":448.6,"v":8.2},{"s":8.2,"t":463.3,"v":8.193},{"s":8.2,"t":472,"v":8.205},{"s":8.2,"t":480,"v":8.2},
{"s":8.0,"t":120,"v":8.025},{"s":8.0,"t":135,"v":8.03},{"s":8.0,"t":150,"v":8.02},{"s":8.0,"t":165,"v":8.025},{"s":8.0,"t":180,"v":8.03},{"s":8.0,"t":190,"v":8.025},{"s":8.0,"t":198.6,"v":8.043},{"s":8.0,"t":208.6,"v":8.048},{"s":8.0,"t":209.5,"v":7.995},{"s":8.0,"t":210.8,"v":7.971},{"s":8.0,"t":212.6,"v":7.995},{"s":8.0,"t":216,"v":8.019},{"s":8.0,"t":224.8,"v":8.019},{"s":8.0,"t":233.5,"v":8.019},{"s":8.0,"t":242.2,"v":8.014},{"s":8.0,"t":250,"v":8.056},{"s":8.0,"t":259.6,"v":8.043},{"s":8.0,"t":268.3,"v":8.031},{"s":8.0,"t":277.1,"v":8.039},{"s":8.0,"t":283.6,"v":8.007},{"s":8.0,"t":285.8,"v":8.024},{"s":8.0,"t":294.5,"v":8.039},{"s":8.0,"t":303.2,"v":8.019},{"s":8.0,"t":311.9,"v":8.039},{"s":8.0,"t":320.6,"v":8.056},{"s":8.0,"t":326.6,"v":8.024},{"s":8.0,"t":331,"v":8.007},{"s":8.0,"t":334,"v":8.068},{"s":8.0,"t":339.7,"v":8.039},{"s":8.0,"t":351.9,"v":8.019},{"s":8.0,"t":358.9,"v":7.995},{"s":8.0,"t":361.5,"v":8.043},{"s":8.0,"t":378.9,"v":8.019},{"s":8.0,"t":398.1,"v":8.068},{"s":8.0,"t":405,"v":8.043},{"s":8.0,"t":413.8,"v":8.039},{"s":8.0,"t":431.2,"v":8.031},{"s":8.0,"t":443.4,"v":8.007},{"s":8.0,"t":448.6,"v":8.043},{"s":8.0,"t":463.3,"v":8.039},{"s":8.0,"t":472,"v":8.03},{"s":8.0,"t":480,"v":8.035},
{"s":7.8,"t":120,"v":7.79},{"s":7.8,"t":135,"v":7.8},{"s":7.8,"t":150,"v":7.79},{"s":7.8,"t":160,"v":7.8},{"s":7.8,"t":166.5,"v":7.793},{"s":7.8,"t":177,"v":7.817},{"s":7.8,"t":183.9,"v":7.781},{"s":7.8,"t":194.4,"v":7.793},{"s":7.8,"t":202.8,"v":7.776},{"s":7.8,"t":208.3,"v":7.81},{"s":7.8,"t":209.4,"v":7.732},{"s":7.8,"t":210.3,"v":7.66},{"s":7.8,"t":211.5,"v":7.672},{"s":7.8,"t":212.5,"v":7.708},{"s":7.8,"t":213.9,"v":7.757},{"s":7.8,"t":222.3,"v":7.769},{"s":7.8,"t":229.3,"v":7.781},{"s":7.8,"t":236.2,"v":7.793},{"s":7.8,"t":250.2,"v":7.805},{"s":7.8,"t":264.1,"v":7.793},{"s":7.8,"t":275.8,"v":7.786},{"s":7.8,"t":290,"v":7.8},{"s":7.8,"t":310,"v":7.795},{"s":7.8,"t":330,"v":7.805},{"s":7.8,"t":350,"v":7.8},{"s":7.8,"t":370,"v":7.795},{"s":7.8,"t":390,"v":7.81},{"s":7.8,"t":410,"v":7.8},{"s":7.8,"t":430,"v":7.805},{"s":7.8,"t":450,"v":7.8},{"s":7.8,"t":465,"v":7.81},{"s":7.8,"t":480,"v":7.8},
{"s":7.6,"t":120,"v":7.55},{"s":7.6,"t":140,"v":7.555},{"s":7.6,"t":155,"v":7.545},{"s":7.6,"t":166.5,"v":7.554},{"s":7.6,"t":175.2,"v":7.564},{"s":7.6,"t":187.4,"v":7.547},{"s":7.6,"t":201.4,"v":7.547},{"s":7.6,"t":208.3,"v":7.564},{"s":7.6,"t":210.3,"v":7.402},{"s":7.6,"t":212.2,"v":7.438},{"s":7.6,"t":213.9,"v":7.523},{"s":7.6,"t":220.9,"v":7.547},{"s":7.6,"t":226.5,"v":7.511},{"s":7.6,"t":236.2,"v":7.535},{"s":7.6,"t":250.2,"v":7.535},{"s":7.6,"t":262.7,"v":7.523},{"s":7.6,"t":273.2,"v":7.564},{"s":7.6,"t":275.8,"v":7.54},{"s":7.6,"t":290,"v":7.56},{"s":7.6,"t":310,"v":7.565},{"s":7.6,"t":330,"v":7.56},{"s":7.6,"t":360,"v":7.57},{"s":7.6,"t":390,"v":7.565},{"s":7.6,"t":420,"v":7.575},{"s":7.6,"t":450,"v":7.57},{"s":7.6,"t":480,"v":7.565},
{"s":7.4,"t":120,"v":7.27},{"s":7.4,"t":140,"v":7.28},{"s":7.4,"t":155,"v":7.285},{"s":7.4,"t":166.5,"v":7.284},{"s":7.4,"t":177,"v":7.291},{"s":7.4,"t":183.9,"v":7.248},{"s":7.4,"t":200.7,"v":7.224},{"s":7.4,"t":201.7,"v":7.284},{"s":7.4,"t":202.8,"v":7.229},{"s":7.4,"t":208.3,"v":7.277},{"s":7.4,"t":210.3,"v":7.074},{"s":7.4,"t":212.2,"v":7.115},{"s":7.4,"t":213.9,"v":7.2},{"s":7.4,"t":220.9,"v":7.236},{"s":7.4,"t":226.5,"v":7.18},{"s":7.4,"t":236.2,"v":7.224},{"s":7.4,"t":250.2,"v":7.229},{"s":7.4,"t":262.7,"v":7.248},{"s":7.4,"t":275.8,"v":7.229},{"s":7.4,"t":290,"v":7.25},{"s":7.4,"t":310,"v":7.26},{"s":7.4,"t":330,"v":7.27},{"s":7.4,"t":360,"v":7.28},{"s":7.4,"t":390,"v":7.285},{"s":7.4,"t":420,"v":7.29},{"s":7.4,"t":450,"v":7.3},{"s":7.4,"t":465,"v":7.295},{"s":7.4,"t":480,"v":7.285},
{"s":7.2,"t":120,"v":6.97},{"s":7.2,"t":140,"v":6.98},{"s":7.2,"t":155,"v":6.99},{"s":7.2,"t":166.5,"v":6.983},{"s":7.2,"t":170.7,"v":7.007},{"s":7.2,"t":180.4,"v":6.971},{"s":7.2,"t":182.5,"v":7.002},{"s":7.2,"t":183.9,"v":6.963},{"s":7.2,"t":201.4,"v":6.971},{"s":7.2,"t":208.3,"v":6.959},{"s":7.2,"t":210.3,"v":6.77},{"s":7.2,"t":212.2,"v":6.802},{"s":7.2,"t":213.9,"v":6.874},{"s":7.2,"t":220.9,"v":6.898},{"s":7.2,"t":227.2,"v":6.874},{"s":7.2,"t":236.2,"v":6.934},{"s":7.2,"t":248.1,"v":6.91},{"s":7.2,"t":262.7,"v":6.934},{"s":7.2,"t":275.8,"v":6.934},{"s":7.2,"t":290,"v":6.94},{"s":7.2,"t":310,"v":6.95},{"s":7.2,"t":330,"v":6.96},{"s":7.2,"t":360,"v":6.97},{"s":7.2,"t":390,"v":6.98},{"s":7.2,"t":420,"v":7.0},{"s":7.2,"t":450,"v":7.01},{"s":7.2,"t":480,"v":7.0},
{"s":7.0,"t":120,"v":6.7},{"s":7.0,"t":140,"v":6.71},{"s":7.0,"t":155,"v":6.72},{"s":7.0,"t":166.5,"v":6.703},{"s":7.0,"t":170.7,"v":6.727},{"s":7.0,"t":183.2,"v":6.703},{"s":7.0,"t":187.4,"v":6.679},{"s":7.0,"t":201.4,"v":6.667},{"s":7.0,"t":208.3,"v":6.672},{"s":7.0,"t":210.3,"v":6.527},{"s":7.0,"t":212.2,"v":6.546},{"s":7.0,"t":213.9,"v":6.614},{"s":7.0,"t":220.9,"v":6.638},{"s":7.0,"t":227.2,"v":6.607},{"s":7.0,"t":236.2,"v":6.655},{"s":7.0,"t":250.2,"v":6.619},{"s":7.0,"t":262.7,"v":6.648},{"s":7.0,"t":275.8,"v":6.643},{"s":7.0,"t":290,"v":6.65},{"s":7.0,"t":310,"v":6.66},{"s":7.0,"t":330,"v":6.68},{"s":7.0,"t":360,"v":6.69},{"s":7.0,"t":390,"v":6.7},{"s":7.0,"t":420,"v":6.71},{"s":7.0,"t":450,"v":6.72},{"s":7.0,"t":480,"v":6.715},
{"s":6.8,"t":120,"v":6.42},{"s":6.8,"t":140,"v":6.425},{"s":6.8,"t":155,"v":6.43},{"s":6.8,"t":166.5,"v":6.421},{"s":6.8,"t":170.7,"v":6.445},{"s":6.8,"t":183.2,"v":6.414},{"s":6.8,"t":187.4,"v":6.397},{"s":6.8,"t":208.3,"v":6.382},{"s":6.8,"t":210.3,"v":6.276},{"s":6.8,"t":212.2,"v":6.293},{"s":6.8,"t":215.3,"v":6.341},{"s":6.8,"t":227.2,"v":6.334},{"s":6.8,"t":236.2,"v":6.382},{"s":6.8,"t":250.2,"v":6.329},{"s":6.8,"t":275.8,"v":6.341},{"s":6.8,"t":290,"v":6.36},{"s":6.8,"t":310,"v":6.37},{"s":6.8,"t":330,"v":6.39},{"s":6.8,"t":360,"v":6.4},{"s":6.8,"t":390,"v":6.41},{"s":6.8,"t":420,"v":6.42},{"s":6.8,"t":450,"v":6.43},{"s":6.8,"t":480,"v":6.425},
{"s":6.6,"t":120,"v":6.19},{"s":6.6,"t":140,"v":6.2},{"s":6.6,"t":160,"v":6.21},{"s":6.6,"t":166.5,"v":6.203},{"s":6.6,"t":180,"v":6.195},{"s":6.6,"t":187.4,"v":6.17},{"s":6.6,"t":200,"v":6.16},{"s":6.6,"t":208.3,"v":6.15},{"s":6.6,"t":210.3,"v":6.075},{"s":6.6,"t":212.2,"v":6.087},{"s":6.6,"t":215.3,"v":6.136},{"s":6.6,"t":229.5,"v":6.136},{"s":6.6,"t":236.2,"v":6.17},{"s":6.6,"t":250.2,"v":6.12},{"s":6.6,"t":268,"v":6.112},{"s":6.6,"t":280.7,"v":6.1},{"s":6.6,"t":283,"v":6.13},{"s":6.6,"t":290.4,"v":6.16},{"s":6.6,"t":297.9,"v":6.2},{"s":6.6,"t":305.4,"v":6.19},{"s":6.6,"t":312.8,"v":6.16},{"s":6.6,"t":314.3,"v":6.21},{"s":6.6,"t":321.8,"v":6.22},{"s":6.6,"t":330,"v":6.24},{"s":6.6,"t":335.2,"v":6.23},{"s":6.6,"t":342.7,"v":6.21},{"s":6.6,"t":357.7,"v":6.22},{"s":6.6,"t":375.4,"v":6.22},{"s":6.6,"t":385.2,"v":6.21},{"s":6.6,"t":402.3,"v":6.25},{"s":6.6,"t":430,"v":6.24},{"s":6.6,"t":452.7,"v":6.27},{"s":6.6,"t":476.2,"v":6.22},{"s":6.6,"t":480,"v":6.19},
{"s":6.4,"t":120,"v":5.89},{"s":6.4,"t":130,"v":5.895},{"s":6.4,"t":140,"v":5.91},{"s":6.4,"t":150,"v":5.925},{"s":6.4,"t":160.6,"v":5.923},{"s":6.4,"t":166.6,"v":5.9},{"s":6.4,"t":172.6,"v":5.915},{"s":6.4,"t":175.2,"v":5.9},{"s":6.4,"t":175.5,"v":5.97},{"s":6.4,"t":176.4,"v":5.97},{"s":6.4,"t":176.9,"v":5.9},{"s":6.4,"t":179.3,"v":5.88},{"s":6.4,"t":186,"v":5.85},{"s":6.4,"t":186.4,"v":5.9},{"s":6.4,"t":187.1,"v":5.9},{"s":6.4,"t":187.5,"v":5.85},{"s":6.4,"t":191.6,"v":5.854},{"s":6.4,"t":191.8,"v":5.87},{"s":6.4,"t":192.6,"v":5.87},{"s":6.4,"t":192.9,"v":5.846},{"s":6.4,"t":199.5,"v":5.826},{"s":6.4,"t":208.4,"v":5.83},{"s":6.4,"t":209.9,"v":5.8},{"s":6.4,"t":215.9,"v":5.826},{"s":6.4,"t":216.3,"v":5.886},{"s":6.4,"t":217.2,"v":5.886},{"s":6.4,"t":217.5,"v":5.83},{"s":6.4,"t":227.9,"v":5.814},{"s":6.4,"t":235.3,"v":5.862},{"s":6.4,"t":239.1,"v":5.846},{"s":6.4,"t":246.5,"v":5.814},{"s":6.4,"t":260.7,"v":5.807},{"s":6.4,"t":261.1,"v":5.88},{"s":6.4,"t":262.1,"v":5.886},{"s":6.4,"t":262.4,"v":5.814},{"s":6.4,"t":272.7,"v":5.8},{"s":6.4,"t":277.8,"v":5.814},{"s":6.4,"t":281.4,"v":5.793},{"s":6.4,"t":282.9,"v":5.822},{"s":6.4,"t":285.9,"v":5.858},{"s":6.4,"t":297.9,"v":5.943},{"s":6.4,"t":312.8,"v":5.918},{"s":6.4,"t":314.3,"v":5.967},{"s":6.4,"t":321.8,"v":5.979},{"s":6.4,"t":329.3,"v":6.015},{"s":6.4,"t":335.2,"v":6.015},{"s":6.4,"t":338.2,"v":5.967},{"s":6.4,"t":342.7,"v":5.979},{"s":6.4,"t":357.7,"v":5.955},{"s":6.4,"t":362.9,"v":5.99},{"s":6.4,"t":368.9,"v":6.0},{"s":6.4,"t":375.4,"v":5.955},{"s":6.4,"t":385.2,"v":5.96},{"s":6.4,"t":402.3,"v":5.99},{"s":6.4,"t":435.9,"v":5.979},{"s":6.4,"t":437.9,"v":5.967},{"s":6.4,"t":439.6,"v":6.063},{"s":6.4,"t":442,"v":6.155},{"s":6.4,"t":443.3,"v":6.148},{"s":6.4,"t":445.3,"v":6.015},{"s":6.4,"t":447.3,"v":5.967},{"s":6.4,"t":448.7,"v":6.015},{"s":6.4,"t":452,"v":6.039},{"s":6.4,"t":454.4,"v":6.015},{"s":6.4,"t":457.4,"v":6.099},{"s":6.4,"t":460.1,"v":6.063},{"s":6.4,"t":461.5,"v":6.051},{"s":6.4,"t":464.8,"v":6.106},{"s":6.4,"t":467.2,"v":6.075},{"s":6.4,"t":469.2,"v":5.99},{"s":6.4,"t":472.9,"v":5.967},{"s":6.4,"t":476.9,"v":5.955},{"s":6.4,"t":480,"v":5.943},
{"s":6.2,"t":120,"v":5.72},{"s":6.2,"t":140,"v":5.73},{"s":6.2,"t":150,"v":5.74},{"s":6.2,"t":160.6,"v":5.725},{"s":6.2,"t":171.1,"v":5.745},{"s":6.2,"t":179.3,"v":5.713},{"s":6.2,"t":189.7,"v":5.672},{"s":6.2,"t":199.5,"v":5.677},{"s":6.2,"t":208.4,"v":5.689},{"s":6.2,"t":209.9,"v":5.672},{"s":6.2,"t":215.9,"v":5.682},{"s":6.2,"t":227.9,"v":5.689},{"s":6.2,"t":235.3,"v":5.72},{"s":6.2,"t":239.8,"v":5.682},{"s":6.2,"t":250.3,"v":5.682},{"s":6.2,"t":265.2,"v":5.677},{"s":6.2,"t":281.4,"v":5.672},{"s":6.2,"t":283,"v":5.737},{"s":6.2,"t":285.9,"v":5.749},{"s":6.2,"t":297.9,"v":5.822},{"s":6.2,"t":308.7,"v":5.786},{"s":6.2,"t":314.3,"v":5.858},{"s":6.2,"t":321.8,"v":5.882},{"s":6.2,"t":330,"v":5.918},{"s":6.2,"t":335.2,"v":5.93},{"s":6.2,"t":342.7,"v":5.882},{"s":6.2,"t":357.7,"v":5.882},{"s":6.2,"t":361.4,"v":5.834},{"s":6.2,"t":368.9,"v":5.87},{"s":6.2,"t":375.4,"v":5.83},{"s":6.2,"t":385.2,"v":5.834},{"s":6.2,"t":409,"v":5.87},{"s":6.2,"t":435.9,"v":5.834},{"s":6.2,"t":456.1,"v":5.822},{"s":6.2,"t":480,"v":5.786},
{"s":6.0,"t":120,"v":5.555},{"s":6.0,"t":140,"v":5.575},{"s":6.0,"t":160.6,"v":5.556},{"s":6.0,"t":171.1,"v":5.568},{"s":6.0,"t":175.5,"v":5.544},{"s":6.0,"t":189,"v":5.496},{"s":6.0,"t":191.5,"v":5.496},{"s":6.0,"t":191.8,"v":5.527},{"s":6.0,"t":192.6,"v":5.527},{"s":6.0,"t":192.9,"v":5.496},{"s":6.0,"t":204,"v":5.489},{"s":6.0,"t":209.2,"v":5.52},{"s":6.0,"t":227.9,"v":5.527},{"s":6.0,"t":235.3,"v":5.551},{"s":6.0,"t":240.6,"v":5.508},{"s":6.0,"t":253.3,"v":5.496},{"s":6.0,"t":268,"v":5.503},{"s":6.0,"t":281.4,"v":5.52},{"s":6.0,"t":283,"v":5.581},{"s":6.0,"t":285.9,"v":5.593},{"s":6.0,"t":297.9,"v":5.641},{"s":6.0,"t":308.7,"v":5.617},{"s":6.0,"t":314.3,"v":5.689},{"s":6.0,"t":321.8,"v":5.701},{"s":6.0,"t":330,"v":5.749},{"s":6.0,"t":335.2,"v":5.737},{"s":6.0,"t":342.7,"v":5.701},{"s":6.0,"t":357.7,"v":5.677},{"s":6.0,"t":375.4,"v":5.655},{"s":6.0,"t":385.2,"v":5.677},{"s":6.0,"t":409,"v":5.689},{"s":6.0,"t":435.9,"v":5.653},{"s":6.0,"t":456.1,"v":5.665},{"s":6.0,"t":480,"v":5.617},
{"s":5.8,"t":120,"v":5.385},{"s":5.8,"t":140,"v":5.4},{"s":5.8,"t":160.6,"v":5.387},{"s":5.8,"t":169.6,"v":5.392},{"s":5.8,"t":179.3,"v":5.363},{"s":5.8,"t":189,"v":5.327},{"s":5.8,"t":201.7,"v":5.327},{"s":5.8,"t":212.9,"v":5.351},{"s":5.8,"t":224.1,"v":5.339},{"s":5.8,"t":235.3,"v":5.375},{"s":5.8,"t":253.3,"v":5.339},{"s":5.8,"t":268,"v":5.351},{"s":5.8,"t":281.4,"v":5.363},{"s":5.8,"t":283.7,"v":5.399},{"s":5.8,"t":290.4,"v":5.423},{"s":5.8,"t":297.9,"v":5.472},{"s":5.8,"t":308.7,"v":5.455},{"s":5.8,"t":314.3,"v":5.508},{"s":5.8,"t":321.8,"v":5.532},{"s":5.8,"t":330,"v":5.556},{"s":5.8,"t":342.7,"v":5.52},{"s":5.8,"t":357.7,"v":5.496},{"s":5.8,"t":375.4,"v":5.475},{"s":5.8,"t":385.2,"v":5.484},{"s":5.8,"t":409,"v":5.503},{"s":5.8,"t":435.9,"v":5.484},{"s":5.8,"t":456.1,"v":5.484},{"s":5.8,"t":480,"v":5.448},
{"s":5.6,"t":120,"v":5.21},{"s":5.6,"t":140,"v":5.22},{"s":5.6,"t":160.6,"v":5.214},{"s":5.6,"t":168.1,"v":5.207},{"s":5.6,"t":179.3,"v":5.2},{"s":5.6,"t":189,"v":5.17},{"s":5.6,"t":201.7,"v":5.17},{"s":5.6,"t":224.1,"v":5.175},{"s":5.6,"t":230.1,"v":5.207},{"s":5.6,"t":235.3,"v":5.207},{"s":5.6,"t":268,"v":5.194},{"s":5.6,"t":281.4,"v":5.206},{"s":5.6,"t":283.7,"v":5.23},{"s":5.6,"t":290.4,"v":5.266},{"s":5.6,"t":300.1,"v":5.315},{"s":5.6,"t":308.7,"v":5.29},{"s":5.6,"t":312.8,"v":5.303},{"s":5.6,"t":321.8,"v":5.351},{"s":5.6,"t":330,"v":5.375},{"s":5.6,"t":342.7,"v":5.339},{"s":5.6,"t":357.7,"v":5.339},{"s":5.6,"t":375.4,"v":5.295},{"s":5.6,"t":385.2,"v":5.303},{"s":5.6,"t":409,"v":5.327},{"s":5.6,"t":435.9,"v":5.303},{"s":5.6,"t":456.1,"v":5.31},{"s":5.6,"t":480,"v":5.272},
{"s":5.4,"t":120,"v":5.07},{"s":5.4,"t":140,"v":5.08},{"s":5.4,"t":160.6,"v":5.069},{"s":5.4,"t":179.3,"v":5.055},{"s":5.4,"t":189,"v":5.03},{"s":5.4,"t":201.7,"v":5.03},{"s":5.4,"t":224.1,"v":5.035},{"s":5.4,"t":230.1,"v":5.062},{"s":5.4,"t":235.3,"v":5.055},{"s":5.4,"t":268,"v":5.045},{"s":5.4,"t":281.4,"v":5.055},{"s":5.4,"t":283.7,"v":5.075},{"s":5.4,"t":290.4,"v":5.098},{"s":5.4,"t":300.1,"v":5.146},{"s":5.4,"t":308.7,"v":5.122},{"s":5.4,"t":312.8,"v":5.146},{"s":5.4,"t":321.8,"v":5.182},{"s":5.4,"t":330,"v":5.206},{"s":5.4,"t":342.7,"v":5.17},{"s":5.4,"t":357.7,"v":5.158},{"s":5.4,"t":375.4,"v":5.14},{"s":5.4,"t":385.2,"v":5.146},{"s":5.4,"t":409,"v":5.165},{"s":5.4,"t":435.9,"v":5.146},{"s":5.4,"t":456.1,"v":5.15},{"s":5.4,"t":480,"v":5.11},
{"s":5.2,"t":120,"v":4.92},{"s":5.2,"t":140,"v":4.93},{"s":5.2,"t":160.6,"v":4.917},{"s":5.2,"t":189,"v":4.893},{"s":5.2,"t":240,"v":4.895},{"s":5.2,"t":268,"v":4.893},{"s":5.2,"t":281.4,"v":4.905},{"s":5.2,"t":283.7,"v":4.905},{"s":5.2,"t":290.4,"v":4.929},{"s":5.2,"t":300.1,"v":4.977},{"s":5.2,"t":308.7,"v":4.953},{"s":5.2,"t":312.8,"v":4.989},{"s":5.2,"t":321.8,"v":5.001},{"s":5.2,"t":330,"v":5.025},{"s":5.2,"t":342.7,"v":5.001},{"s":5.2,"t":357.7,"v":4.989},{"s":5.2,"t":385.2,"v":4.985},{"s":5.2,"t":409,"v":4.997},{"s":5.2,"t":435.9,"v":4.989},{"s":5.2,"t":456.1,"v":4.989},{"s":5.2,"t":480,"v":4.953},
{"s":5.0,"t":120,"v":4.735},{"s":5.0,"t":140,"v":4.745},{"s":5.0,"t":160,"v":4.74},{"s":5.0,"t":200,"v":4.73},{"s":5.0,"t":240,"v":4.728},{"s":5.0,"t":268,"v":4.724},{"s":5.0,"t":279.2,"v":4.736},{"s":5.0,"t":283,"v":4.724},{"s":5.0,"t":290.4,"v":4.772},{"s":5.0,"t":300.1,"v":4.803},{"s":5.0,"t":308.7,"v":4.772},{"s":5.0,"t":312.8,"v":4.808},{"s":5.0,"t":321.8,"v":4.82},{"s":5.0,"t":330,"v":4.844},{"s":5.0,"t":342.7,"v":4.82},{"s":5.0,"t":357.7,"v":4.803},{"s":5.0,"t":385.2,"v":4.796},{"s":5.0,"t":420,"v":4.8},{"s":5.0,"t":450,"v":4.795},{"s":5.0,"t":480,"v":4.785},
{"s":4.8,"t":120,"v":4.565},{"s":4.8,"t":140,"v":4.572},{"s":4.8,"t":160,"v":4.567},{"s":4.8,"t":200,"v":4.558},{"s":4.8,"t":240,"v":4.556},{"s":4.8,"t":268,"v":4.555},{"s":4.8,"t":283,"v":4.555},{"s":4.8,"t":290.4,"v":4.591},{"s":4.8,"t":300.1,"v":4.627},{"s":4.8,"t":308.7,"v":4.596},{"s":4.8,"t":312.8,"v":4.627},{"s":4.8,"t":321.8,"v":4.651},{"s":4.8,"t":330,"v":4.663},{"s":4.8,"t":342.7,"v":4.639},{"s":4.8,"t":357.7,"v":4.627},{"s":4.8,"t":385.2,"v":4.615},{"s":4.8,"t":420,"v":4.62},{"s":4.8,"t":450,"v":4.615},{"s":4.8,"t":480,"v":4.61},
{"s":4.6,"t":120,"v":4.39},{"s":4.6,"t":140,"v":4.397},{"s":4.6,"t":160,"v":4.392},{"s":4.6,"t":200,"v":4.385},{"s":4.6,"t":240,"v":4.384},{"s":4.6,"t":268,"v":4.386},{"s":4.6,"t":283,"v":4.386},{"s":4.6,"t":290.4,"v":4.422},{"s":4.6,"t":300.1,"v":4.458},{"s":4.6,"t":308.7,"v":4.41},{"s":4.6,"t":309.8,"v":4.434},{"s":4.6,"t":321.8,"v":4.468},{"s":4.6,"t":330,"v":4.47},{"s":4.6,"t":342.7,"v":4.451},{"s":4.6,"t":385.2,"v":4.434},{"s":4.6,"t":420,"v":4.44},{"s":4.6,"t":450,"v":4.437},{"s":4.6,"t":480,"v":4.432},
{"s":4.4,"t":120,"v":4.205},{"s":4.4,"t":140,"v":4.21},{"s":4.4,"t":160,"v":4.205},{"s":4.4,"t":200,"v":4.196},{"s":4.4,"t":240,"v":4.194},{"s":4.4,"t":268,"v":4.193},{"s":4.4,"t":283,"v":4.193},{"s":4.4,"t":290.4,"v":4.217},{"s":4.4,"t":300.1,"v":4.253},{"s":4.4,"t":308.7,"v":4.209},{"s":4.4,"t":309.8,"v":4.233},{"s":4.4,"t":321.8,"v":4.265},{"s":4.4,"t":330,"v":4.272},{"s":4.4,"t":342.7,"v":4.258},{"s":4.4,"t":385.2,"v":4.241},{"s":4.4,"t":420,"v":4.245},{"s":4.4,"t":450,"v":4.242},{"s":4.4,"t":480,"v":4.238},
{"s":4.2,"t":120,"v":4.0},{"s":4.2,"t":140,"v":4.005},{"s":4.2,"t":172,"v":4.002},{"s":4.2,"t":173,"v":4.012},{"s":4.2,"t":174,"v":4.0},{"s":4.2,"t":200,"v":3.995},{"s":4.2,"t":240,"v":3.993},{"s":4.2,"t":268,"v":3.992},{"s":4.2,"t":283,"v":3.992},{"s":4.2,"t":290.4,"v":4.024},{"s":4.2,"t":300.1,"v":4.055},{"s":4.2,"t":308.7,"v":4.012},{"s":4.2,"t":309.8,"v":4.031},{"s":4.2,"t":321.8,"v":4.065},{"s":4.2,"t":330,"v":4.072},{"s":4.2,"t":342.7,"v":4.055},{"s":4.2,"t":385.2,"v":4.048},{"s":4.2,"t":420,"v":4.05},{"s":4.2,"t":450,"v":4.048},{"s":4.2,"t":480,"v":4.045},
{"s":4.0,"t":120,"v":3.87},{"s":4.0,"t":150,"v":3.873},{"s":4.0,"t":180,"v":3.868},{"s":4.0,"t":208.5,"v":3.87},{"s":4.0,"t":210.5,"v":3.85},{"s":4.0,"t":213,"v":3.867},{"s":4.0,"t":245,"v":3.872},{"s":4.0,"t":270,"v":3.87},{"s":4.0,"t":282,"v":3.866},{"s":4.0,"t":290,"v":3.884},{"s":4.0,"t":300,"v":3.897},{"s":4.0,"t":308.5,"v":3.902},{"s":4.0,"t":309.6,"v":3.877},{"s":4.0,"t":311.5,"v":3.908},{"s":4.0,"t":330,"v":3.92},{"s":4.0,"t":370,"v":3.917},{"s":4.0,"t":420,"v":3.915},{"s":4.0,"t":480,"v":3.915},
{"s":3.8,"t":120,"v":3.7},{"s":3.8,"t":150,"v":3.703},{"s":3.8,"t":180,"v":3.698},{"s":3.8,"t":208.5,"v":3.7},{"s":3.8,"t":210.5,"v":3.685},{"s":3.8,"t":213,"v":3.697},{"s":3.8,"t":217.8,"v":3.7},{"s":3.8,"t":218.2,"v":3.705},{"s":3.8,"t":218.8,"v":3.7},{"s":3.8,"t":245,"v":3.702},{"s":3.8,"t":270,"v":3.7},{"s":3.8,"t":282,"v":3.696},{"s":3.8,"t":290,"v":3.71},{"s":3.8,"t":300,"v":3.721},{"s":3.8,"t":308.5,"v":3.724},{"s":3.8,"t":309.6,"v":3.699},{"s":3.8,"t":311.5,"v":3.73},{"s":3.8,"t":330,"v":3.74},{"s":3.8,"t":370,"v":3.737},{"s":3.8,"t":420,"v":3.735},{"s":3.8,"t":480,"v":3.735},
{"s":3.6,"t":120,"v":3.512},{"s":3.6,"t":150,"v":3.515},{"s":3.6,"t":180,"v":3.51},{"s":3.6,"t":208.5,"v":3.512},{"s":3.6,"t":210.5,"v":3.497},{"s":3.6,"t":213,"v":3.509},{"s":3.6,"t":217.8,"v":3.512},{"s":3.6,"t":218.2,"v":3.532},{"s":3.6,"t":218.8,"v":3.512},{"s":3.6,"t":245,"v":3.514},{"s":3.6,"t":270,"v":3.512},{"s":3.6,"t":282,"v":3.508},{"s":3.6,"t":290,"v":3.523},{"s":3.6,"t":300,"v":3.534},{"s":3.6,"t":308.5,"v":3.538},{"s":3.6,"t":309.6,"v":3.518},{"s":3.6,"t":311.5,"v":3.543},{"s":3.6,"t":330,"v":3.554},{"s":3.6,"t":370,"v":3.551},{"s":3.6,"t":420,"v":3.549},{"s":3.6,"t":480,"v":3.549},
{"s":3.4,"t":120,"v":3.346},{"s":3.4,"t":150,"v":3.349},{"s":3.4,"t":180,"v":3.344},{"s":3.4,"t":208.5,"v":3.346},{"s":3.4,"t":210.5,"v":3.334},{"s":3.4,"t":213,"v":3.343},{"s":3.4,"t":217.8,"v":3.346},{"s":3.4,"t":218.2,"v":3.366},{"s":3.4,"t":218.8,"v":3.346},{"s":3.4,"t":245,"v":3.348},{"s":3.4,"t":270,"v":3.346},{"s":3.4,"t":282,"v":3.342},{"s":3.4,"t":290,"v":3.355},{"s":3.4,"t":300,"v":3.363},{"s":3.4,"t":308.5,"v":3.366},{"s":3.4,"t":309.6,"v":3.346},{"s":3.4,"t":311.5,"v":3.371},{"s":3.4,"t":330,"v":3.38},{"s":3.4,"t":370,"v":3.377},{"s":3.4,"t":420,"v":3.375},{"s":3.4,"t":480,"v":3.375},
{"s":3.2,"t":120,"v":3.16},{"s":3.2,"t":150,"v":3.163},{"s":3.2,"t":180,"v":3.158},{"s":3.2,"t":208.5,"v":3.16},{"s":3.2,"t":210.5,"v":3.148},{"s":3.2,"t":213,"v":3.157},{"s":3.2,"t":217.8,"v":3.16},{"s":3.2,"t":218.2,"v":3.18},{"s":3.2,"t":218.8,"v":3.16},{"s":3.2,"t":245,"v":3.162},{"s":3.2,"t":270,"v":3.16},{"s":3.2,"t":282,"v":3.156},{"s":3.2,"t":290,"v":3.168},{"s":3.2,"t":300,"v":3.175},{"s":3.2,"t":308.5,"v":3.178},{"s":3.2,"t":309.6,"v":3.158},{"s":3.2,"t":311.5,"v":3.181},{"s":3.2,"t":330,"v":3.19},{"s":3.2,"t":370,"v":3.187},{"s":3.2,"t":420,"v":3.185},{"s":3.2,"t":480,"v":3.185},
{"s":3.0,"t":120,"v":2.976},{"s":3.0,"t":150,"v":2.979},{"s":3.0,"t":180,"v":2.974},{"s":3.0,"t":208.5,"v":2.976},{"s":3.0,"t":210.5,"v":2.964},{"s":3.0,"t":213,"v":2.973},{"s":3.0,"t":217.8,"v":2.976},{"s":3.0,"t":218.2,"v":3.001},{"s":3.0,"t":218.8,"v":2.976},{"s":3.0,"t":245,"v":2.978},{"s":3.0,"t":270,"v":2.976},{"s":3.0,"t":282,"v":2.972},{"s":3.0,"t":290,"v":2.983},{"s":3.0,"t":300,"v":2.99},{"s":3.0,"t":308.5,"v":2.993},{"s":3.0,"t":309.6,"v":2.973},{"s":3.0,"t":311.5,"v":2.996},{"s":3.0,"t":330,"v":3.005},{"s":3.0,"t":370,"v":3.002},{"s":3.0,"t":420,"v":3.0},{"s":3.0,"t":480,"v":3.0},
{"s":2.8,"t":120,"v":2.79},{"s":2.8,"t":150,"v":2.793},{"s":2.8,"t":180,"v":2.788},{"s":2.8,"t":208.5,"v":2.79},{"s":2.8,"t":210.5,"v":2.78},{"s":2.8,"t":213,"v":2.787},{"s":2.8,"t":217.8,"v":2.79},{"s":2.8,"t":218.2,"v":2.815},{"s":2.8,"t":218.8,"v":2.79},{"s":2.8,"t":245,"v":2.792},{"s":2.8,"t":270,"v":2.79},{"s":2.8,"t":282,"v":2.786},{"s":2.8,"t":290,"v":2.796},{"s":2.8,"t":300,"v":2.802},{"s":2.8,"t":308.5,"v":2.804},{"s":2.8,"t":309.6,"v":2.784},{"s":2.8,"t":311.5,"v":2.807},{"s":2.8,"t":330,"v":2.815},{"s":2.8,"t":370,"v":2.812},{"s":2.8,"t":420,"v":2.81},{"s":2.8,"t":480,"v":2.81},
{"s":2.6,"t":120,"v":2.59},{"s":2.6,"t":150,"v":2.593},{"s":2.6,"t":180,"v":2.588},{"s":2.6,"t":208.5,"v":2.59},{"s":2.6,"t":210.5,"v":2.58},{"s":2.6,"t":213,"v":2.587},{"s":2.6,"t":217.8,"v":2.59},{"s":2.6,"t":218.2,"v":2.615},{"s":2.6,"t":218.8,"v":2.59},{"s":2.6,"t":245,"v":2.592},{"s":2.6,"t":270,"v":2.59},{"s":2.6,"t":282,"v":2.586},{"s":2.6,"t":290,"v":2.596},{"s":2.6,"t":300,"v":2.602},{"s":2.6,"t":308.5,"v":2.604},{"s":2.6,"t":309.6,"v":2.584},{"s":2.6,"t":311.5,"v":2.607},{"s":2.6,"t":330,"v":2.615},{"s":2.6,"t":370,"v":2.612},{"s":2.6,"t":420,"v":2.61},{"s":2.6,"t":480,"v":2.61},
{"s":2.4,"t":120,"v":2.404},{"s":2.4,"t":150,"v":2.407},{"s":2.4,"t":180,"v":2.402},{"s":2.4,"t":208.5,"v":2.404},{"s":2.4,"t":210.5,"v":2.394},{"s":2.4,"t":213,"v":2.401},{"s":2.4,"t":217.8,"v":2.404},{"s":2.4,"t":218.2,"v":2.429},{"s":2.4,"t":218.8,"v":2.404},{"s":2.4,"t":245,"v":2.406},{"s":2.4,"t":270,"v":2.404},{"s":2.4,"t":282,"v":2.4},{"s":2.4,"t":290,"v":2.409},{"s":2.4,"t":300,"v":2.414},{"s":2.4,"t":308.5,"v":2.415},{"s":2.4,"t":309.6,"v":2.397},{"s":2.4,"t":311.5,"v":2.418},{"s":2.4,"t":330,"v":2.425},{"s":2.4,"t":370,"v":2.422},{"s":2.4,"t":420,"v":2.42},{"s":2.4,"t":480,"v":2.42},
{"s":2.2,"t":120,"v":2.21},{"s":2.2,"t":150,"v":2.213},{"s":2.2,"t":180,"v":2.208},{"s":2.2,"t":208.5,"v":2.21},{"s":2.2,"t":210.5,"v":2.2},{"s":2.2,"t":213,"v":2.207},{"s":2.2,"t":217.8,"v":2.21},{"s":2.2,"t":218.2,"v":2.235},{"s":2.2,"t":218.8,"v":2.21},{"s":2.2,"t":245,"v":2.212},{"s":2.2,"t":270,"v":2.21},{"s":2.2,"t":282,"v":2.206},{"s":2.2,"t":290,"v":2.215},{"s":2.2,"t":300,"v":2.219},{"s":2.2,"t":308.5,"v":2.22},{"s":2.2,"t":309.6,"v":2.202},{"s":2.2,"t":311.5,"v":2.223},{"s":2.2,"t":330,"v":2.23},{"s":2.2,"t":370,"v":2.227},{"s":2.2,"t":420,"v":2.225},{"s":2.2,"t":480,"v":2.225},
{"s":2.0,"t":120,"v":2.007},{"s":2.0,"t":150,"v":2.01},{"s":2.0,"t":180,"v":2.005},{"s":2.0,"t":208.5,"v":2.007},{"s":2.0,"t":210.5,"v":1.997},{"s":2.0,"t":213,"v":2.004},{"s":2.0,"t":217.8,"v":2.007},{"s":2.0,"t":218.2,"v":2.027},{"s":2.0,"t":218.8,"v":2.007},{"s":2.0,"t":245,"v":2.009},{"s":2.0,"t":270,"v":2.007},{"s":2.0,"t":282,"v":2.003},{"s":2.0,"t":290,"v":2.012},{"s":2.0,"t":300,"v":2.018},{"s":2.0,"t":308.5,"v":2.02},{"s":2.0,"t":309.6,"v":2.002},{"s":2.0,"t":311.5,"v":2.022},{"s":2.0,"t":330,"v":2.03},{"s":2.0,"t":370,"v":2.027},{"s":2.0,"t":420,"v":2.025},{"s":2.0,"t":480,"v":2.025},
{"s":1.8,"t":120,"v":1.81},{"s":1.8,"t":150,"v":1.813},{"s":1.8,"t":180,"v":1.808},{"s":1.8,"t":208.5,"v":1.81},{"s":1.8,"t":210.5,"v":1.802},{"s":1.8,"t":213,"v":1.807},{"s":1.8,"t":217.8,"v":1.81},{"s":1.8,"t":218.2,"v":1.825},{"s":1.8,"t":218.8,"v":1.81},{"s":1.8,"t":245,"v":1.812},{"s":1.8,"t":270,"v":1.81},{"s":1.8,"t":282,"v":1.806},{"s":1.8,"t":290,"v":1.816},{"s":1.8,"t":300,"v":1.822},{"s":1.8,"t":308.5,"v":1.824},{"s":1.8,"t":309.6,"v":1.809},{"s":1.8,"t":311.5,"v":1.827},{"s":1.8,"t":330,"v":1.835},{"s":1.8,"t":370,"v":1.832},{"s":1.8,"t":420,"v":1.83},{"s":1.8,"t":480,"v":1.83},
{"s":1.6,"t":120,"v":1.61},{"s":1.6,"t":180,"v":1.609},{"s":1.6,"t":217.8,"v":1.61},{"s":1.6,"t":218.2,"v":1.618},{"s":1.6,"t":218.8,"v":1.61},{"s":1.6,"t":250,"v":1.612},{"s":1.6,"t":283,"v":1.614},{"s":1.6,"t":300,"v":1.62},{"s":1.6,"t":309,"v":1.623},{"s":1.6,"t":309.6,"v":1.613},{"s":1.6,"t":311,"v":1.624},{"s":1.6,"t":330,"v":1.628},{"s":1.6,"t":370,"v":1.634},{"s":1.6,"t":420,"v":1.64},{"s":1.6,"t":480,"v":1.64},
{"s":1.4,"t":120,"v":1.406},{"s":1.4,"t":180,"v":1.405},{"s":1.4,"t":250,"v":1.409},{"s":1.4,"t":283,"v":1.413},{"s":1.4,"t":300,"v":1.42},{"s":1.4,"t":330,"v":1.426},{"s":1.4,"t":370,"v":1.433},{"s":1.4,"t":420,"v":1.44},{"s":1.4,"t":480,"v":1.44},
{"s":1.2,"t":120,"v":1.203},{"s":1.2,"t":180,"v":1.202},{"s":1.2,"t":250,"v":1.207},{"s":1.2,"t":283,"v":1.21},{"s":1.2,"t":300,"v":1.218},{"s":1.2,"t":330,"v":1.225},{"s":1.2,"t":370,"v":1.233},{"s":1.2,"t":420,"v":1.24},{"s":1.2,"t":480,"v":1.24},
{"s":1.0,"t":120,"v":1.0},{"s":1.0,"t":180,"v":0.999},{"s":1.0,"t":250,"v":1.004},{"s":1.0,"t":283,"v":1.008},{"s":1.0,"t":300,"v":1.016},{"s":1.0,"t":330,"v":1.024},{"s":1.0,"t":370,"v":1.032},{"s":1.0,"t":420,"v":1.04},{"s":1.0,"t":480,"v":1.04},
{"s":0.8,"t":120,"v":0.8},{"s":0.8,"t":180,"v":0.799},{"s":0.8,"t":250,"v":0.804},{"s":0.8,"t":276.7,"v":0.807},{"s":0.8,"t":277,"v":0.83},{"s":0.8,"t":277.4,"v":0.807},{"s":0.8,"t":300,"v":0.814},{"s":0.8,"t":330,"v":0.822},{"s":0.8,"t":370,"v":0.829},{"s":0.8,"t":420,"v":0.836},{"s":0.8,"t":480,"v":0.836},
{"s":0.6,"t":120,"v":0.6},{"s":0.6,"t":180,"v":0.599},{"s":0.6,"t":250,"v":0.604},{"s":0.6,"t":276.7,"v":0.607},{"s":0.6,"t":277,"v":0.64},{"s":0.6,"t":277.4,"v":0.607},{"s":0.6,"t":300,"v":0.614},{"s":0.6,"t":330,"v":0.622},{"s":0.6,"t":370,"v":0.629},{"s":0.6,"t":420,"v":0.636},{"s":0.6,"t":480,"v":0.636},
{"s":0.4,"t":120,"v":0.4},{"s":0.4,"t":180,"v":0.399},{"s":0.4,"t":217.8,"v":0.401},{"s":0.4,"t":218.2,"v":0.43},{"s":0.4,"t":218.6,"v":0.401},{"s":0.4,"t":250,"v":0.404},{"s":0.4,"t":276.7,"v":0.407},{"s":0.4,"t":277,"v":0.45},{"s":0.4,"t":277.4,"v":0.407},{"s":0.4,"t":300,"v":0.414},{"s":0.4,"t":330,"v":0.422},{"s":0.4,"t":370,"v":0.429},{"s":0.4,"t":420,"v":0.436},{"s":0.4,"t":480,"v":0.436},
{"s":0.2,"t":120,"v":0.2},{"s":0.2,"t":180,"v":0.199},{"s":0.2,"t":217.9,"v":0.201},{"s":0.2,"t":218.1,"v":0.32},{"s":0.2,"t":218.3,"v":0.21},{"s":0.2,"t":218.6,"v":0.202},{"s":0.2,"t":250,"v":0.204},{"s":0.2,"t":276.8,"v":0.207},{"s":0.2,"t":277,"v":0.28},{"s":0.2,"t":277.2,"v":0.215},{"s":0.2,"t":277.5,"v":0.207},{"s":0.2,"t":300,"v":0.214},{"s":0.2,"t":330,"v":0.22},{"s":0.2,"t":370,"v":0.227},{"s":0.2,"t":420,"v":0.234},{"s":0.2,"t":480,"v":0.234},
{"s":0.0,"t":120,"v":0.007},{"s":0.0,"t":180,"v":0.006},{"s":0.0,"t":217.9,"v":0.008},{"s":0.0,"t":218.1,"v":0.15},{"s":0.0,"t":218.3,"v":0.02},{"s":0.0,"t":218.6,"v":0.008},{"s":0.0,"t":250,"v":0.01},{"s":0.0,"t":276.8,"v":0.012},{"s":0.0,"t":277,"v":-0.08},{"s":0.0,"t":277.2,"v":0.0},{"s":0.0,"t":277.5,"v":0.012},{"s":0.0,"t":300,"v":0.016},{"s":0.0,"t":330,"v":0.02},{"s":0.0,"t":370,"v":0.025},{"s":0.0,"t":420,"v":0.03},{"s":0.0,"t":480,"v":0.03}
]},
"hconcat":[
{"width":1844,"height":1407,
"layer":[
{"data":{"name":"dt"},"mark":{"type":"rule","color":"#a0a0a0","strokeWidth":1.4},
"encoding":{
"y":{"field":"s","type":"quantitative","scale":{"domain":[-0.2,10],"nice":false,"zero":false},"axis":{"values":[0,2,4,6,8,10],"tickSize":5,"labelPadding":3,"title":null}},
"x":{"datum":120,"type":"quantitative","scale":{"domain":[120,480],"nice":false,"zero":false},"axis":{"orient":"bottom","tickCount":180,"labels":false,"tickSize":3,"title":null}},
"x2":{"datum":480}}},
{"data":{"name":"tr"},"mark":{"type":"line","strokeWidth":2},
"encoding":{
"x":{"field":"t","type":"quantitative","scale":{"domain":[120,480],"nice":false,"zero":false},"axis":{"orient":"bottom","values":[120,140,160,180,200,220,240,260,280,300,320,340,360,380,400,420,440,460,480],"labelExpr":"utcFormat(datum.value*60000,'%H:%M')","tickSize":5,"labelPadding":3,"title":null}},
"y":{"field":"v","type":"quantitative","axis":{"values":[0,2,4,6,8,10],"tickSize":5,"labelPadding":3,"title":null}},
"color":{"field":"s","type":"ordinal","legend":null,"scale":{"domain":[0,0.2,0.4,0.6,0.8,1,1.2,1.4,1.6,1.8,2,2.2,2.4,2.6,2.8,3,3.2,3.4,3.6,3.8,4,4.2,4.4,4.6,4.8,5,5.2,5.4,5.6,5.8,6,6.2,6.4,6.6,6.8,7,7.2,7.4,7.6,7.8,8,8.2,8.4,8.6,8.8,9,9.2,9.4],"range":["#ff0000","#fe0000","#fc0000","#fa0000","#f70200","#f30300","#ee0500","#e80700","#e20900","#da0c00","#d20f00","#c91300","#c01700","#b71b00","#ad1f00","#a42300","#9a2700","#912b00","#873000","#7e3400","#753900","#6c3f00","#634500","#5a4b00","#515100","#485700","#3f5d00","#366300","#2c6900","#226f00","#187500","#0e7a00","#048000","#007018","#006630","#005a48","#005060","#004678","#003c90","#0032a8","#0028c0","#001ed2","#0014e2","#000aef","#0004f8","#0000ff","#0000ff","#0000ff"]}}}}
],
"resolve":{"axis":{"x":"independent"}}
},
{"width":59,"height":1407,
"data":{"name":"dt"},
"encoding":{
"y":{"field":"s","type":"quantitative","scale":{"domain":[-0.2,10],"nice":false,"zero":false},"axis":{"values":[0,2,4,6,8,10],"labels":false,"tickSize":5,"title":null}},
"x":{"field":"x","type":"quantitative","scale":{"domain":[-1,1],"nice":false,"zero":false},"axis":{"values":[-1,0,1],"labels":false,"tickSize":5,"title":null}}},
"layer":[
{"mark":{"type":"point","filled":true,"size":120,"opacity":1},
"encoding":{"color":{"field":"s","type":"ordinal","legend":null,"scale":{"domain":[0,0.2,0.4,0.6,0.8,1,1.2,1.4,1.6,1.8,2,2.2,2.4,2.6,2.8,3,3.2,3.4,3.6,3.8,4,4.2,4.4,4.6,4.8,5,5.2,5.4,5.6,5.8,6,6.2,6.4,6.6,6.8,7,7.2,7.4,7.6,7.8,8,8.2,8.4,8.6,8.8,9,9.2,9.4],"range":["#ff0000","#fe0000","#fc0000","#fa0000","#f70200","#f30300","#ee0500","#e80700","#e20900","#da0c00","#d20f00","#c91300","#c01700","#b71b00","#ad1f00","#a42300","#9a2700","#912b00","#873000","#7e3400","#753900","#6c3f00","#634500","#5a4b00","#515100","#485700","#3f5d00","#366300","#2c6900","#226f00","#187500","#0e7a00","#048000","#007018","#006630","#005a48","#005060","#004678","#003c90","#0032a8","#0028c0","#001ed2","#0014e2","#000aef","#0004f8","#0000ff","#0000ff","#0000ff"]}}}},
{"mark":{"type":"line","color":"#222222","strokeWidth":1},"encoding":{"order":{"field":"s","type":"quantitative"}}}
]}
]
}
